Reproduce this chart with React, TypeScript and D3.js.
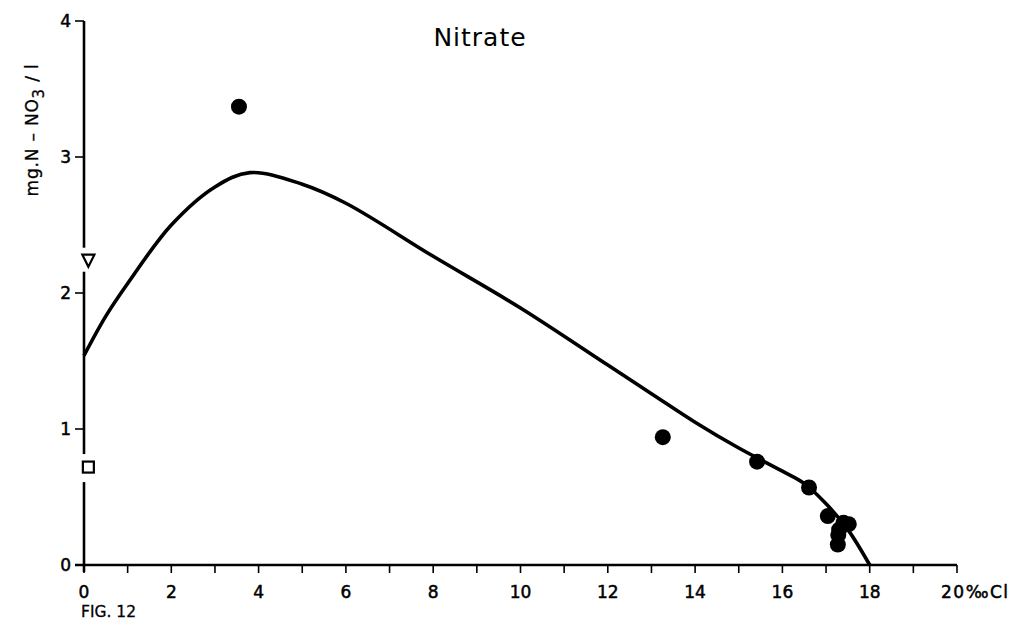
import React from "react";
import * as d3 from "d3";

const xTicks = [0, 2, 4, 6, 8, 10, 12, 14, 16, 18, 20];
const xMinorTicks = d3.range(0, 21);
const yTicks = [0, 1, 2, 3, 4];

const pointX = [3.55, 13.26, 15.42, 16.61, 17.04, 17.4, 17.52, 17.3, 17.28, 17.27];
const pointY = [3.37, 0.94, 0.76, 0.57, 0.36, 0.31, 0.30, 0.26, 0.22, 0.15];

const curveX = [0, 0.5, 1, 2, 3, 3.8, 5, 6, 8, 10, 12, 13, 14, 15, 16, 16.5, 17, 17.5, 18];
const curveY = [1.54, 1.83, 2.07, 2.5, 2.78, 2.885, 2.8, 2.66, 2.27, 1.89, 1.47, 1.26, 1.05, 0.86, 0.69, 0.6, 0.45, 0.26, 0];

const triangleVal = { x: 0.1, y: 2.23 };
const squareVal = { x: 0.1, y: 0.72 };

export default function App() {
  const W = 1034, H = 643;
  const x = d3.scaleLinear().domain([0, 20]).range([84, 957]);
  const y = d3.scaleLinear().domain([0, 4]).range([565, 21]);
  const line = d3.line<number>()
    .x((_, i) => x(curveX[i]))
    .y((_, i) => y(curveY[i]))
    .curve(d3.curveCatmullRom.alpha(0.5));
  const font = "'DejaVu Sans', sans-serif";
  const tx = x(triangleVal.x), ty = y(triangleVal.y);
  const sx = x(squareVal.x), sy = y(squareVal.y);
  const ax = x(0);
  const bold = { stroke: "#000", strokeWidth: 0.5 };
  return (
    <svg width={W} height={H} style={{ position: "absolute", left: 0, top: 0, background: "#fff" }}>
      {/* y axis segments with gaps around markers */}
      <g stroke="#000" strokeWidth={2.6}>
        <line x1={ax} x2={ax} y1={y(0) + 7} y2={sy + 15} />
        <line x1={ax} x2={ax} y1={sy - 13} y2={ty + 10} />
        <line x1={ax} x2={ax} y1={ty - 14} y2={y(4)} />
        <line x1={ax - 9} x2={x(20)} y1={y(0)} y2={y(0)} />
      </g>
      {/* ticks */}
      <g stroke="#000" strokeWidth={1.6}>
        {yTicks.map((t) => (
          <line key={t} x1={ax - 9} x2={ax} y1={y(t)} y2={y(t)} />
        ))}
        {xMinorTicks.map((t) => (
          <line key={t} x1={x(t)} x2={x(t)} y1={y(0)} y2={y(0) + 8} />
        ))}
      </g>
      {/* y tick labels */}
      <g fontFamily={font} fontSize={17} fill="#000" textAnchor="end" {...bold}>
        {yTicks.map((t) => (
          <text key={t} x={ax - 13} y={y(t) + 6}>{t}</text>
        ))}
      </g>
      {/* x tick labels */}
      <g fontFamily={font} fontSize={17} fill="#000" textAnchor="middle" {...bold}>
        {xTicks.filter((t) => t < 20).map((t) => (
          <text key={t} x={x(t)} y={y(0) + 33}>{t}</text>
        ))}
        <text x={x(20) - 16} y={y(0) + 33} textAnchor="start" letterSpacing={1.5}>20‰Cl</text>
      </g>
      <text x={ax - 3} y={617} fontFamily={font} fontSize={15.5} fill="#000" {...bold} strokeWidth={0.3}>FIG. 12</text>
      {/* title */}
      <text x={480} y={46} fontFamily={font} fontSize={25} fill="#000" textAnchor="middle" letterSpacing={1}>Nitrate</text>
      {/* y axis label */}
      <text transform={`translate(38,130) rotate(-90)`} fontFamily={font} fontSize={17} fill="#000" textAnchor="middle" letterSpacing={0.8} {...bold} strokeWidth={0.3}>
        mg.N – NO<tspan dy={6} fontSize={15}>3</tspan><tspan dy={-6}> / l</tspan>
      </text>
      {/* curve */}
      <path d={line(curveX) || ""} fill="none" stroke="#000" strokeWidth={3.6} />
      {/* points */}
      {pointX.map((px, i) => (
        <circle key={i} cx={x(px)} cy={y(pointY[i])} r={8} fill="#000" />
      ))}
      {/* triangle */}
      <path d={`M${tx - 6},${ty - 7} L${tx + 6},${ty - 7} L${tx},${ty + 5} Z`} fill="#fff" stroke="#000" strokeWidth={2.2} />
      {/* square */}
      <rect x={sx - 5.5} y={sy - 5.5} width={11} height={11} fill="#fff" stroke="#000" strokeWidth={2.2} />
    </svg>
  );
}
